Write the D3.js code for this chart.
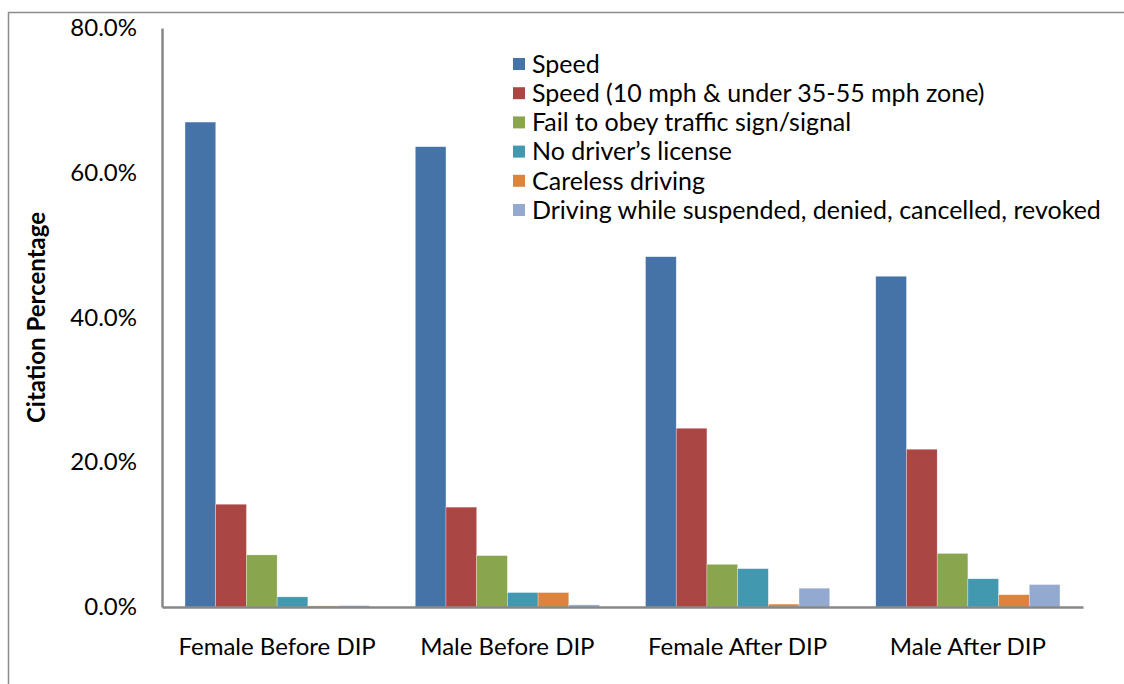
<!DOCTYPE html>
<html>
<head>
<meta charset="utf-8">
<script src="https://cdn.jsdelivr.net/npm/d3@7"></script>
<style>
    body { margin: 0; background: #fff; }
    text { font-family: Lato, "Noto Sans", sans-serif; fill: #000; }
</style>
</head>
<body>
<div id="chart"></div>
<script>
// Citation percentage by violation type, before and after DIP

const groups = ["Female Before DIP", "Male Before DIP", "Female After DIP", "Male After DIP"];
const violations = [
    "Speed",
    "Speed (10 mph & under 35-55 mph zone)",
    "Fail to obey traffic sign/signal",
    "No driver\u2019s license",
    "Careless driving",
    "Driving while suspended, denied, cancelled, revoked"
];
const colors = ["#4572a7", "#aa4643", "#89a54e", "#4198af", "#db843d", "#93a9cf"];

// one array per violation, values for the four groups (percent)
const speed = [67.0, 63.6, 48.4, 45.7];
const speedZone = [14.2, 13.8, 24.7, 21.8];
const signal = [7.2, 7.1, 5.9, 7.4];
const noLicense = [1.4, 2.0, 5.3, 3.9];
const careless = [0.15, 2.0, 0.4, 1.7];
const suspended = [0.2, 0.3, 2.6, 3.1];
const yTicks = [0, 20, 40, 60, 80];

const seriesValues = [speed, speedZone, signal, noLicense, careless, suspended];

const width = 1124,
    height = 684,
    margin = ({top: 28, right: 41, bottom: 77, left: 162});

const font = "Lato, 'Noto Sans', sans-serif";

let svg = d3.select("#chart")
    .append("svg")
    .attr("width", width)
    .attr("height", height);

// outer chart border (runs off the right and bottom)
svg.append("rect")
    .attr("x", 8.5)
    .attr("y", 12.5)
    .attr("width", width + 20)
    .attr("height", height + 20)
    .attr("fill", "none")
    .attr("stroke", "#8c8c8c")
    .attr("stroke-width", 1.5);

const x = d3.scaleBand()
    .domain(groups)
    .range([margin.left, width - margin.right])
    .paddingInner(0)
    .paddingOuter(0);

const xSub = d3.scaleBand()
    .domain(d3.range(violations.length))
    .range([0, x.bandwidth()])
    .paddingOuter(0.75)
    .paddingInner(0);

const y = d3.scaleLinear()
    .domain([0, 80])
    .range([height - margin.bottom, margin.top]);

// bars
let group = svg.selectAll(".group")
    .data(groups)
    .join("g")
    .attr("class", "group")
    .attr("transform", d => `translate(${x(d)},0)`);

group.selectAll("rect")
    .data((g, gi) => seriesValues.map((vals, si) => ({si, v: vals[gi]})))
    .join("rect")
    .attr("x", d => xSub(d.si))
    .attr("width", xSub.bandwidth())
    .attr("y", d => y(d.v))
    .attr("height", d => y(0) - y(d.v))
    .attr("fill", d => colors[d.si])
    .attr("stroke", "#fff")
    .attr("stroke-opacity", 0.5)
    .attr("stroke-width", 0.6);

// y axis
const yAxis = g => g
    .attr("transform", `translate(${margin.left},0)`)
    .call(d3.axisLeft(y).tickValues(yTicks).tickSize(0).tickPadding(25)
        .tickFormat(d => d.toFixed(1) + "%"))
    .call(g => g.select(".domain").attr("stroke", "#878787").attr("stroke-width", 2.5))
    .call(g => g.selectAll("text").attr("font-size", 24).attr("font-family", font));

// x axis
const xAxis = g => g
    .attr("transform", `translate(0,${height - margin.bottom})`)
    .call(d3.axisBottom(x).tickSize(0).tickPadding(31))
    .call(g => g.select(".domain").attr("stroke", "#878787").attr("stroke-width", 2.5))
    .call(g => g.selectAll("text").attr("font-size", 24).attr("font-family", font));

svg.append("g").call(yAxis);
svg.append("g").call(xAxis);

// y axis title
svg.append("text")
    .attr("transform", `translate(45,${(margin.top + height - margin.bottom) / 2}) rotate(-90)`)
    .attr("text-anchor", "middle")
    .attr("font-size", 24)
    .attr("font-weight", "bold")
    .text("Citation Percentage");

// legend
let legend = svg.append("g")
    .attr("transform", "translate(513,63)");

let item = legend.selectAll(".item")
    .data(violations)
    .join("g")
    .attr("class", "item")
    .attr("transform", (d, i) => `translate(0,${i * 29.2})`);

item.append("rect")
    .attr("x", 0)
    .attr("y", -5)
    .attr("width", 12)
    .attr("height", 12)
    .attr("fill", (d, i) => colors[i]);

item.append("text")
    .attr("x", 19)
    .attr("y", 1)
    .attr("dy", "0.35em")
    .attr("font-size", 25)
    .text(d => d);
</script>
</body>
</html>
